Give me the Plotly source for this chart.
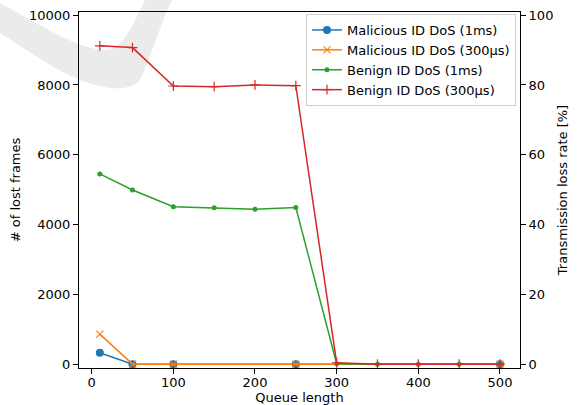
import plotly.graph_objects as go

# ---- data ----
queue_mal = [10, 50, 100, 250, 500]
mal_1ms = [325, 0, 0, 0, 0]
mal_300us = [860, 0, 0, 0, 0]

queue_ben = [10, 50, 100, 150, 200, 250, 300, 350, 400, 450, 500]
ben_1ms = [54.5, 49.9, 45.1, 44.8, 44.4, 44.9, 0.1, 0, 0, 0, 0]
ben_300us = [91.2, 90.7, 79.7, 79.5, 80.0, 79.8, 0.4, 0, 0, 0, 0]

x_ticks = [0, 100, 200, 300, 400, 500]
y_ticks = [0, 2000, 4000, 6000, 8000, 10000]
y_tick_labels = ["0", "2000", "4000", "6000", "8000", "10000"]
y2_ticks = [0, 20, 40, 60, 80, 100]

FONT = "DejaVu Sans"
W, H = 580, 405
L, R, T, B = 79, 520, 12, 368

fig = go.Figure()
fig.add_trace(go.Scatter(x=queue_mal, y=mal_1ms, name="Malicious ID DoS (1ms)", legendgroup="g1",
                         mode="lines+markers", line=dict(color="#1f77b4", width=1.5),
                         marker=dict(symbol="circle", size=8, color="#1f77b4")))
fig.add_trace(go.Scatter(x=queue_mal, y=mal_300us, name="Malicious ID DoS (300µs)", legendgroup="g2",
                         mode="lines+markers", line=dict(color="#ff7f0e", width=1.5),
                         marker=dict(symbol="x-thin-open", size=7, color="#ff7f0e",
                                     line=dict(color="#ff7f0e", width=1.2))))
fig.add_trace(go.Scatter(x=queue_ben, y=ben_1ms, name="Benign ID DoS (1ms)", yaxis="y2", legendgroup="g3",
                         mode="lines+markers", line=dict(color="#2ca02c", width=1.5),
                         marker=dict(symbol="circle", size=5, color="#2ca02c")))
fig.add_trace(go.Scatter(x=queue_ben, y=ben_300us, name="Benign ID DoS (300µs)", yaxis="y2", legendgroup="g4",
                         mode="lines+markers", line=dict(color="#d62728", width=1.5),
                         marker=dict(symbol="cross-thin-open", size=7, color="#d62728",
                                     line=dict(color="#d62728", width=1.2))))


def P(px, py):
    return (px - L) / (R - L), (B - py) / (B - T)


def pt(px, py):
    x, y = P(px, py)
    return f"{x:.4f},{y:.4f}"


# light gray watermark swoosh
path = ("M " + pt(-5, 0) + " L " + pt(0, 3) +
        " C " + pt(40, 25) + " " + pt(80, 50) + " " + pt(105, 50) +
        " C " + pt(120, 50) + " " + pt(127, 38) + " " + pt(145, 0) +
        " L " + pt(145, -5) + " L " + pt(172, -5) + " L " + pt(172, 0) +
        " C " + pt(160, 25) + " " + pt(150, 60) + " " + pt(140, 80) +
        " C " + pt(130, 92) + " " + pt(105, 90) + " " + pt(80, 80) +
        " C " + pt(50, 68) + " " + pt(20, 45) + " " + pt(-5, 30) + " Z")
fig.add_shape(type="path", path=path, xref="paper", yref="paper", layer="below",
              fillcolor="#ebebeb", line=dict(width=0))

axis_common = dict(showgrid=False, zeroline=False, ticks="outside", ticklen=5,
                   tickwidth=1, tickcolor="black", linecolor="black", linewidth=1,
                   showline=True, automargin=False,
                   tickfont=dict(family=FONT, size=13, color="black"))

fig.update_layout(
    width=W, height=H,
    margin=dict(l=L, r=W - R, t=T, b=H - B, pad=0, autoexpand=False),
    paper_bgcolor="white", plot_bgcolor="rgba(0,0,0,0)",
    font=dict(family=FONT, size=13, color="black"),
    xaxis=dict(range=[-15.5, 524.5], tickvals=x_ticks, mirror=True, ticklabelstandoff=-3,
               title=dict(text="Queue length", font=dict(family=FONT, size=13), standoff=4),
               **axis_common),
    yaxis=dict(range=[-110, 10090], tickvals=y_ticks, ticktext=y_tick_labels,
               title=dict(text="# of lost frames", font=dict(family=FONT, size=13), standoff=5),
               **axis_common),
    yaxis2=dict(range=[-1.1, 100.9], tickvals=y2_ticks, overlaying="y", side="right",
                title=dict(text="Transmission loss rate [%]", font=dict(family=FONT, size=13), standoff=5),
                **axis_common),
    legend=dict(x=(516 - L) / (R - L), y=(B - 14) / (B - T), xanchor="right", yanchor="top",
                bgcolor="rgba(255,255,255,0.8)", bordercolor="#d0d0d0", borderwidth=1,
                font=dict(family=FONT, size=13, color="black"), itemwidth=30,
                tracegroupgap=0, traceorder="grouped"),
    showlegend=True,
)

fig.write_html("out.html", config={"displayModeBar": False},
               post_script="document.body.style.margin='0px';document.body.style.overflow='hidden';")
